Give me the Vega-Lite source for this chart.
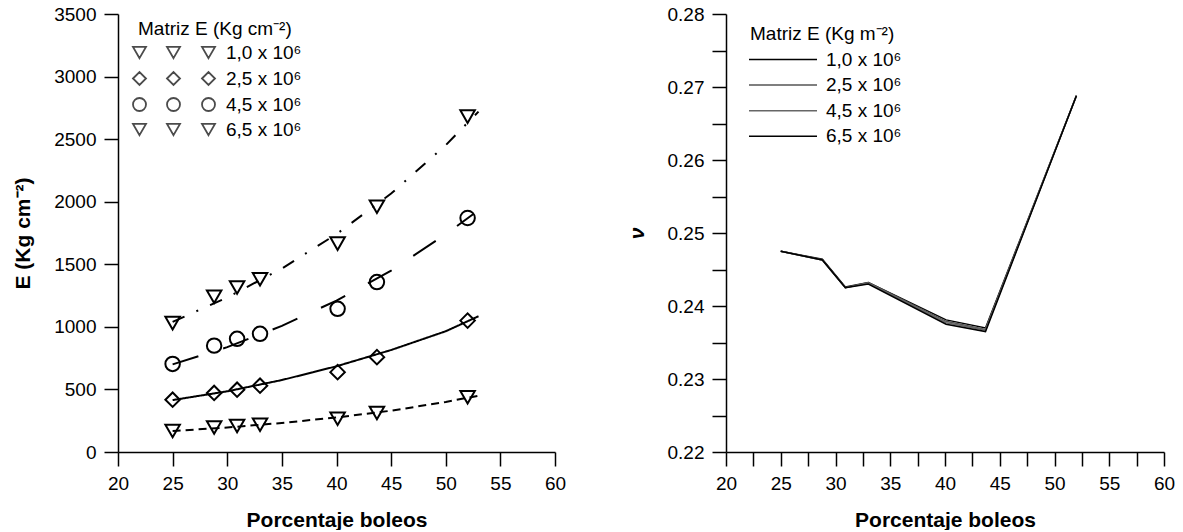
{
  "$schema": "https://vega.github.io/schema/vega-lite/v6.json",
  "padding": {"left": 12, "top": 5, "right": 2, "bottom": 0},
  "spacing": 60,
  "resolve": {
    "scale": {"shape": "independent", "color": "independent", "strokeDash": "independent"},
    "legend": {"shape": "independent", "color": "independent", "strokeDash": "independent"}
  },
  "config": {
    "font": "Liberation Sans",
    "view": {"stroke": null},
    "axis": {
      "grid": false, "domainColor": "black", "tickColor": "black", "labelColor": "black", "titleColor": "black",
      "labelFontSize": 19, "titleFontSize": 21, "titleFontWeight": "bold", "domainWidth": 1.5, "tickWidth": 1.5,
      "labelFlush": false, "labelOverlap": false, "tickSize": 14, "labelPadding": 8
    },
    "legend": {"titleColor": "black", "labelColor": "black", "titleFontSize": 19, "titleFontWeight": "normal", "labelFontSize": 19, "titleLimit": 400, "labelLimit": 300, "padding": 0}
  },
  "datasets": {
    "obs": [
      {"x": 25, "E": 168, "m": "1,0 x 10⁶"}, {"x": 28.8, "E": 196, "m": "1,0 x 10⁶"}, {"x": 30.9, "E": 208, "m": "1,0 x 10⁶"}, {"x": 33, "E": 218, "m": "1,0 x 10⁶"}, {"x": 40.1, "E": 266, "m": "1,0 x 10⁶"}, {"x": 43.7, "E": 312, "m": "1,0 x 10⁶"}, {"x": 52, "E": 437, "m": "1,0 x 10⁶"},
      {"x": 25, "E": 418, "m": "2,5 x 10⁶"}, {"x": 28.8, "E": 472, "m": "2,5 x 10⁶"}, {"x": 30.9, "E": 498, "m": "2,5 x 10⁶"}, {"x": 33, "E": 530, "m": "2,5 x 10⁶"}, {"x": 40.1, "E": 638, "m": "2,5 x 10⁶"}, {"x": 43.7, "E": 758, "m": "2,5 x 10⁶"}, {"x": 52, "E": 1050, "m": "2,5 x 10⁶"},
      {"x": 25, "E": 704, "m": "4,5 x 10⁶"}, {"x": 28.8, "E": 850, "m": "4,5 x 10⁶"}, {"x": 30.9, "E": 904, "m": "4,5 x 10⁶"}, {"x": 33, "E": 944, "m": "4,5 x 10⁶"}, {"x": 40.1, "E": 1144, "m": "4,5 x 10⁶"}, {"x": 43.7, "E": 1358, "m": "4,5 x 10⁶"}, {"x": 52, "E": 1870, "m": "4,5 x 10⁶"},
      {"x": 25, "E": 1030, "m": "6,5 x 10⁶"}, {"x": 28.8, "E": 1240, "m": "6,5 x 10⁶"}, {"x": 30.9, "E": 1315, "m": "6,5 x 10⁶"}, {"x": 33, "E": 1380, "m": "6,5 x 10⁶"}, {"x": 40.1, "E": 1665, "m": "6,5 x 10⁶"}, {"x": 43.7, "E": 1960, "m": "6,5 x 10⁶"}, {"x": 52, "E": 2680, "m": "6,5 x 10⁶"}
    ],
    "fits": [
      {"x": 25, "E": 168, "serie": "a"}, {"x": 30, "E": 196, "serie": "a"}, {"x": 35, "E": 232, "serie": "a"}, {"x": 40, "E": 276, "serie": "a"}, {"x": 45, "E": 330, "serie": "a"}, {"x": 50, "E": 400, "serie": "a"}, {"x": 53, "E": 450, "serie": "a"},
      {"x": 25, "E": 415, "serie": "b"}, {"x": 30, "E": 485, "serie": "b"}, {"x": 35, "E": 575, "serie": "b"}, {"x": 40, "E": 685, "serie": "b"}, {"x": 45, "E": 815, "serie": "b"}, {"x": 50, "E": 965, "serie": "b"}, {"x": 53, "E": 1085, "serie": "b"},
      {"x": 25, "E": 700, "serie": "c"}, {"x": 30, "E": 838, "serie": "c"}, {"x": 35, "E": 1008, "serie": "c"}, {"x": 40, "E": 1210, "serie": "c"}, {"x": 45, "E": 1450, "serie": "c"}, {"x": 50, "E": 1740, "serie": "c"}, {"x": 52.5, "E": 1900, "serie": "c"},
      {"x": 25, "E": 1040, "serie": "d"}, {"x": 30, "E": 1235, "serie": "d"}, {"x": 35, "E": 1466, "serie": "d"}, {"x": 40, "E": 1741, "serie": "d"}, {"x": 45, "E": 2065, "serie": "d"}, {"x": 50, "E": 2452, "serie": "d"}, {"x": 53, "E": 2720, "serie": "d"}
    ],
    "nu": [
      {"x": 25, "v": 0.2475, "m": "1,0 x 10⁶"}, {"x": 28.8, "v": 0.2464, "m": "1,0 x 10⁶"}, {"x": 30.9, "v": 0.2426, "m": "1,0 x 10⁶"}, {"x": 33, "v": 0.2432, "m": "1,0 x 10⁶"}, {"x": 40.1, "v": 0.2381, "m": "1,0 x 10⁶"}, {"x": 43.7, "v": 0.2370, "m": "1,0 x 10⁶"}, {"x": 52, "v": 0.2688, "m": "1,0 x 10⁶"},
      {"x": 25, "v": 0.2475, "m": "2,5 x 10⁶"}, {"x": 28.8, "v": 0.2463, "m": "2,5 x 10⁶"}, {"x": 30.9, "v": 0.2425, "m": "2,5 x 10⁶"}, {"x": 33, "v": 0.2432, "m": "2,5 x 10⁶"}, {"x": 40.1, "v": 0.2379, "m": "2,5 x 10⁶"}, {"x": 43.7, "v": 0.2368, "m": "2,5 x 10⁶"}, {"x": 52, "v": 0.2688, "m": "2,5 x 10⁶"},
      {"x": 25, "v": 0.2475, "m": "4,5 x 10⁶"}, {"x": 28.8, "v": 0.2463, "m": "4,5 x 10⁶"}, {"x": 30.9, "v": 0.2425, "m": "4,5 x 10⁶"}, {"x": 33, "v": 0.2431, "m": "4,5 x 10⁶"}, {"x": 40.1, "v": 0.2377, "m": "4,5 x 10⁶"}, {"x": 43.7, "v": 0.2367, "m": "4,5 x 10⁶"}, {"x": 52, "v": 0.2688, "m": "4,5 x 10⁶"},
      {"x": 25, "v": 0.2475, "m": "6,5 x 10⁶"}, {"x": 28.8, "v": 0.2463, "m": "6,5 x 10⁶"}, {"x": 30.9, "v": 0.2425, "m": "6,5 x 10⁶"}, {"x": 33, "v": 0.2430, "m": "6,5 x 10⁶"}, {"x": 40.1, "v": 0.2375, "m": "6,5 x 10⁶"}, {"x": 43.7, "v": 0.2365, "m": "6,5 x 10⁶"}, {"x": 52, "v": 0.2688, "m": "6,5 x 10⁶"}
    ]
  },
  "hconcat": [
    {
      "width": 437,
      "height": 438,
      "resolve": {
        "scale": {"shape": "independent", "strokeDash": "independent"},
        "legend": {"shape": "independent", "strokeDash": "independent"}
      },
      "layer": [
        {
          "data": {"name": "obs"},
          "mark": {"type": "point", "filled": false, "stroke": "black", "strokeWidth": 2, "size": 210, "opacity": 1},
          "encoding": {
            "x": {"field": "x", "type": "quantitative", "scale": {"domain": [20, 60], "nice": false, "zero": false},
              "axis": {"title": "Porcentaje boleos", "titlePadding": 16,
                "values": [20, 22.5, 25, 27.5, 30, 32.5, 35, 37.5, 40, 42.5, 45, 47.5, 50, 52.5, 55, 57.5, 60],
                "labelExpr": "datum.value % 5 === 0 ? datum.label : ''",
                "encode": {"ticks": {"update": {"y2": {"signal": "datum.value % 5 === 0 ? 14 : 7"}}}}}},
            "y": {"field": "E", "type": "quantitative", "scale": {"domain": [0, 3500], "nice": false},
              "axis": {"title": "E (Kg cm⁻²)", "titlePadding": 20, "format": "d",
                "values": [0, 250, 500, 750, 1000, 1250, 1500, 1750, 2000, 2250, 2500, 2750, 3000, 3250, 3500],
                "labelExpr": "datum.value % 500 === 0 ? datum.label : ''",
                "encode": {"ticks": {"update": {"x2": {"signal": "datum.value % 500 === 0 ? -14 : -7"}}}}}},
            "shape": {"field": "m", "type": "nominal",
              "scale": {"domain": ["1,0 x 10⁶", "2,5 x 10⁶", "4,5 x 10⁶", "6,5 x 10⁶"], "range": ["triangle-down", "diamond", "circle", "triangle-down"]},
              "legend": null}
          }
        },
        {
          "data": {"values": []},
          "mark": {"type": "point", "filled": false, "stroke": "black", "strokeWidth": 1.8},
          "encoding": {
            "x": {"field": "x", "type": "quantitative"},
            "y": {"field": "E", "type": "quantitative"},
            "shape": {"field": "m", "type": "nominal",
              "scale": {"domain": ["1,0 x 10⁶", "2,5 x 10⁶", "4,5 x 10⁶", "6,5 x 10⁶"],
                "range": [
                  "M-1.231,0.866L-0.231,-0.866L-2.231,-0.866ZM4,0.866L5,-0.866L3,-0.866ZM9.385,0.866L10.385,-0.866L8.385,-0.866Z",
                  "M-2.231,0L-1.231,-1L-0.231,0L-1.231,1ZM3,0L4,-1L5,0L4,1ZM8.385,0L9.385,-1L10.385,0L9.385,1Z",
                  "M-0.231,0A1,1,0,1,1,-2.231,0A1,1,0,1,1,-0.231,0ZM5,0A1,1,0,1,1,3,0A1,1,0,1,1,5,0ZM10.385,0A1,1,0,1,1,8.385,0A1,1,0,1,1,10.385,0Z",
                  "M-1.231,0.866L-0.231,-0.866L-2.231,-0.866ZM4,0.866L5,-0.866L3,-0.866ZM9.385,0.866L10.385,-0.866L8.385,-0.866Z"
                ]},
              "legend": {
                "title": "Matriz E (Kg cm⁻²)", "orient": "none", "legendX": 20, "legendY": 6,
                "symbolSize": 169, "symbolStrokeWidth": 1.8, "symbolStrokeColor": "black",
                "labelOffset": 69, "rowPadding": 5, "titlePadding": 4
              }}
          }
        },
        {
          "data": {"name": "fits"},
          "mark": {"type": "line", "stroke": "black", "strokeWidth": 2},
          "encoding": {
            "x": {"field": "x", "type": "quantitative"},
            "y": {"field": "E", "type": "quantitative"},
            "strokeDash": {"field": "serie", "type": "nominal",
              "scale": {"domain": ["a", "b", "c", "d"], "range": [[8, 5], [1, 0], [27, 26], [13, 13, 2, 13]]},
              "legend": null}
          }
        }
      ]
    },
    {
      "width": 438,
      "height": 438,
      "data": {"name": "nu"},
      "mark": {"type": "line", "strokeWidth": 1.5},
      "encoding": {
        "x": {"field": "x", "type": "quantitative", "scale": {"domain": [20, 60], "nice": false, "zero": false},
          "axis": {"title": "Porcentaje boleos", "titlePadding": 16,
            "values": [20, 22.5, 25, 27.5, 30, 32.5, 35, 37.5, 40, 42.5, 45, 47.5, 50, 52.5, 55, 57.5, 60],
            "labelExpr": "datum.value % 5 === 0 ? datum.label : ''",
            "encode": {"ticks": {"update": {"y2": {"signal": "datum.value % 5 === 0 ? 14 : 7"}}}}}},
        "y": {"field": "v", "type": "quantitative", "scale": {"domain": [0.22, 0.28], "nice": false, "zero": false},
          "axis": {"title": "ν", "titleFontStyle": "italic", "titlePadding": 20, "format": ".2f",
            "values": [0.22, 0.225, 0.23, 0.235, 0.24, 0.245, 0.25, 0.255, 0.26, 0.265, 0.27, 0.275, 0.28],
            "labelExpr": "round(datum.value * 1000) % 10 === 0 ? datum.label : ''",
            "encode": {"ticks": {"update": {"x2": {"signal": "round(datum.value * 1000) % 10 === 0 ? -14 : -7"}}}}}},
        "color": {"field": "m", "type": "nominal",
          "scale": {"domain": ["1,0 x 10⁶", "2,5 x 10⁶", "4,5 x 10⁶", "6,5 x 10⁶"], "range": ["#000000", "#555555", "#666666", "#000000"]},
          "legend": {
            "title": "Matriz E (Kg m⁻²)", "orient": "none", "legendX": 24, "legendY": 10.5,
            "symbolType": "M-3,0L16.43,0", "symbolSize": 49, "symbolStrokeWidth": 1.5,
            "labelOffset": 57, "rowPadding": 5.6, "titlePadding": 6.5
          }}
      }
    }
  ]
}
